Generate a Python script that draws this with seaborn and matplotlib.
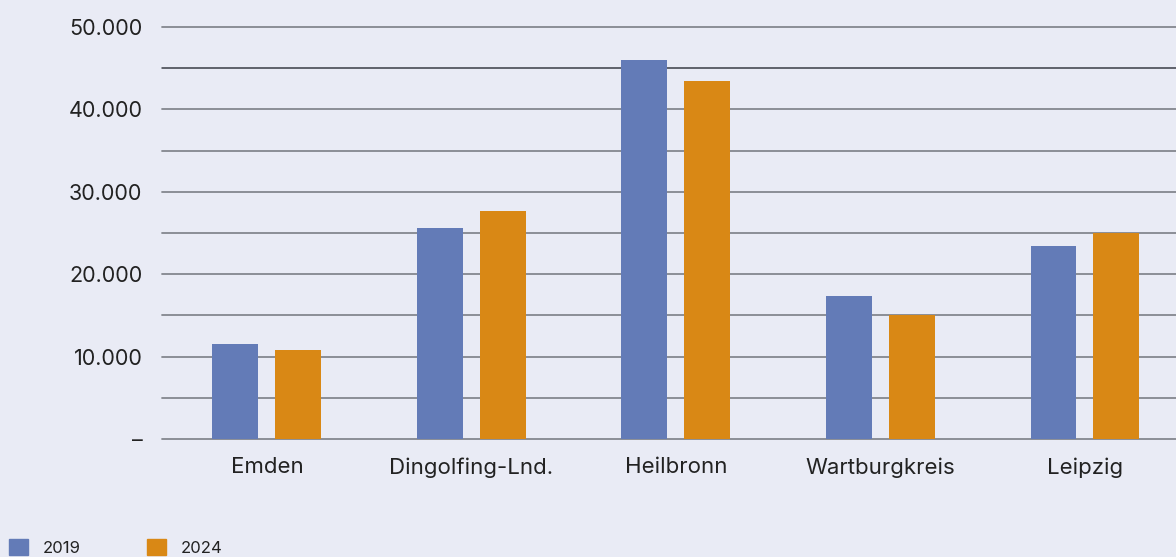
import matplotlib
matplotlib.use("Agg")
import matplotlib.pyplot as plt
import matplotlib.patches as mpatches
import seaborn as sns
import pandas as pd

# Data
regions = ["Emden", "Dingolfing-Lnd.", "Heilbronn", "Wartburgkreis", "Leipzig"]
years = ["2019", "2024"]
values_2019 = [11500, 25600, 46000, 17400, 23400]
values_2024 = [10800, 27700, 43400, 15000, 25000]
y_ticks = [0, 10000, 20000, 30000, 40000, 50000]
y_tick_labels = ["–", "10.000", "20.000", "30.000", "40.000", "50.000"]

BG = "#E9EBF5"
TEXT = "#222222"
COLORS = {"2019": "#637BB7", "2024": "#D98815"}

df = pd.DataFrame({
    "Region": regions * 2,
    "Jahr": [years[0]] * len(regions) + [years[1]] * len(regions),
    "Wert": values_2019 + values_2024,
})

sns.set_theme(style="white")
plt.rcParams["font.family"] = ["Inter", "DejaVu Sans"]

W, H = 1176, 557
fig = plt.figure(figsize=(W / 100, H / 100), dpi=100, facecolor=BG)
ax = fig.add_axes([162 / W, (H - 439) / H, (W - 162) / W, (439 - 27) / H])
ax.set_facecolor(BG)

# Horizontal grid every 5.000
for v in range(0, 50001, 5000):
    col = "#3a3d45" if v == 45000 else "#84878f"
    lw = 1.1 if v == 45000 else 1.3
    ax.axhline(v, color=col, lw=lw, zorder=0, clip_on=False)

sns.barplot(data=df, x="Region", y="Wert", hue="Jahr", palette=COLORS,
            width=0.616, gap=0.27, ax=ax, legend=False, zorder=2,
            saturation=1, errorbar=None, linewidth=0, edgecolor="none")

ax.set_xlim(-0.513, 4.445)
ax.set_ylim(0, 50000)
ax.set_yticks(y_ticks)
ax.set_yticklabels(y_tick_labels, fontsize=15.5, color=TEXT)
ax.tick_params(axis="x", labelsize=16, colors=TEXT, length=0, pad=13)
ax.tick_params(axis="y", length=0, pad=14)
ax.set_xlabel("")
ax.set_ylabel("")
for s in ax.spines.values():
    s.set_visible(False)

handles = [mpatches.Patch(color=COLORS[y], label=y) for y in years]
fig.legend(handles=handles, loc="upper left", bbox_to_anchor=(9 / W, (H - 539) / H),
           ncol=2, frameon=False, fontsize=12, handlelength=1.14, handleheight=1.14,
           handletextpad=0.88, columnspacing=4.0, borderpad=0, borderaxespad=0,
           labelcolor=TEXT)

fig.savefig("out.png", dpi=100, facecolor=BG)
